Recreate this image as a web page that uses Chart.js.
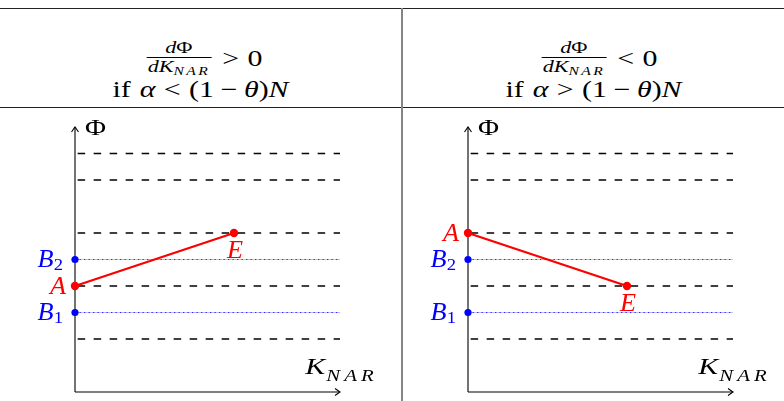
<!DOCTYPE html>
<html>
<head>
<meta charset="utf-8">
<script src="https://cdn.jsdelivr.net/npm/chart.js@4.4.1/dist/chart.umd.min.js"></script>
<style>
  body { margin: 0; background: #fff; }
  #page { position: relative; width: 784px; height: 401px; overflow: hidden; font-family: 'Liberation Serif', serif; color: #000; }
  .hrule { position: absolute; left: 0; width: 784px; height: 1px; background: #222; }
  .vrule { position: absolute; left: 401px; top: 8px; width: 2px; height: 393px; background: #858585; }
  .cell { position: absolute; top: 0; height: 107px; }
  .line1 { position: absolute; left: 0; right: 0; top: 40px; height: 38px; display: flex; justify-content: center; align-items: center; font-size: 23px; transform: scaleX(1.3); }
  .line2 { position: absolute; left: 0; right: 0; top: 78px; line-height: 23px; text-align: center; font-size: 23px; white-space: nowrap; transform: scaleX(1.3); }
  .frac { display: inline-flex; flex-direction: column; align-items: center; margin-right: 2px; font-size: 17px; line-height: 16px; }
  .frac .num { padding-bottom: 1px; }
  .frac .den { border-top: 1px solid #000; padding: 1px 1px 0 1px; white-space: nowrap; }
  .frac sub { font-size: 12px; font-style: italic; letter-spacing: 1.8px; vertical-align: -3px; }
  .th { display: inline-block; width: 0.28em; }
  .md { display: inline-block; width: 0.22em; }
  .sp { display: inline-block; width: 0.3em; }
  .plot { position: absolute; top: 108px; height: 293px; }
</style>
</head>
<body>
<div id="page">
  <div class="hrule" style="top:8px"></div>
  <div class="hrule" style="top:107px"></div>
  <div class="vrule"></div>

  <div class="cell" style="left:0; width:401px">
    <div class="line1" style="left:8px"><span class="frac"><span class="num"><i>d</i>Φ</span><span class="den"><i>dK</i><sub>NAR</sub></span></span><span class="th"></span>&gt;<span class="th"></span>0</div>
    <div class="line2">if<span class="sp"></span><i>α</i><span class="th"></span>&lt;<span class="th"></span>(1<span class="md"></span>−<span class="md"></span><i>θ</i>)<i>N</i></div>
  </div>
  <div class="cell" style="left:403px; width:381px">
    <div class="line1" style="left:12px"><span class="frac"><span class="num"><i>d</i>Φ</span><span class="den"><i>dK</i><sub>NAR</sub></span></span><span class="th"></span>&lt;<span class="th"></span>0</div>
    <div class="line2">if<span class="sp"></span><i>α</i><span class="th"></span>&gt;<span class="th"></span>(1<span class="md"></span>−<span class="md"></span><i>θ</i>)<i>N</i></div>
  </div>

  <div class="plot" style="left:0; width:402px"><canvas id="leftPlot" width="402" height="293"></canvas></div>
  <div class="plot" style="left:403px; width:381px"><canvas id="rightPlot" width="381" height="293"></canvas></div>
</div>

<script>
// axis extent (both diagrams use the same frame)
const kMax = 10;
const phiMax = 10;

// horizontal reference levels
const dashedLevels = [2, 4, 6, 8, 9];
const bLevels = [3, 5];
const bNames = ['1', '2'];

// path A -> E in each diagram
const pathK = [0, 6];
const leftPhi = [4, 6];
const rightPhi = [6, 4];

const RED = '#ff0000';
const BLUE = '#0000ff';
const SERIF = "'Liberation Serif', serif";

function arrowHead(ctx, x, y, dir) {
    // small open tip like TikZ "->"
    ctx.beginPath();
    if (dir === 'up') {
        ctx.moveTo(x - 3.5, y + 5); ctx.lineTo(x, y); ctx.lineTo(x + 3.5, y + 5);
    } else {
        ctx.moveTo(x - 5, y - 3.5); ctx.lineTo(x, y); ctx.lineTo(x - 5, y + 3.5);
    }
    ctx.stroke();
}

// text drawn a little wider than the font, like the math lettering
function textWidth(ctx, text, font, sx, gap = 0) {
    ctx.font = font;
    let w = 0;
    for (const ch of text) w += ctx.measureText(ch).width + gap;
    return (w - gap) * sx;
}

function drawText(ctx, text, left, baseline, font, sx, gap = 0) {
    ctx.save();
    ctx.font = font;
    ctx.textAlign = 'left';
    ctx.translate(left, baseline);
    ctx.scale(sx, 1);
    let cx = 0;
    for (const ch of text) {
        ctx.fillText(ch, cx, 0);
        cx += ctx.measureText(ch).width + gap;
    }
    ctx.restore();
}

function makeChart(canvasId, phiPath, padLeft, padRight) {
    const datasets = [];

    datasets.push({
        data: pathK.map((k, i) => ({ x: k, y: phiPath[i] })),
        showLine: true,
        clip: false,
        borderColor: RED,
        borderWidth: 2.2,
        pointRadius: 4.2,
        pointBackgroundColor: RED,
        pointBorderWidth: 0
    });

    bLevels.forEach(level => {
        // dotted line: dots over a faint trace, with the marker on the axis
        datasets.push({
            data: [{ x: 0, y: level }, { x: kMax, y: level }],
            showLine: true,
            clip: false,
            borderColor: 'rgba(20, 20, 255, 0.85)',
            borderWidth: 1.2,
            borderDash: [1.3, 3.2],
            pointRadius: [3.6, 0],
            pointBackgroundColor: BLUE,
            pointBorderWidth: 0
        });
        datasets.push({
            data: [{ x: 0, y: level }, { x: kMax, y: level }],
            showLine: true,
            borderColor: 'rgba(90, 90, 255, 0.4)',
            borderWidth: 1,
            pointRadius: 0
        });
    });

    dashedLevels.forEach(level => {
        datasets.push({
            data: [{ x: 0.1, y: level }, { x: kMax, y: level }],
            showLine: true,
            clip: false,
            borderColor: '#000',
            borderWidth: 1.3,
            borderDash: [7.5, 8.5],
            pointRadius: 0
        });
    });

    const axesAndLabels = {
        id: 'axesAndLabels',
        beforeDatasetsDraw(chart) {
            const { ctx, scales: { x, y } } = chart;
            const x0 = x.getPixelForValue(0), y0 = y.getPixelForValue(0);
            const xEnd = x.getPixelForValue(kMax), yTop = y.getPixelForValue(phiMax);
            ctx.save();
            ctx.strokeStyle = '#000';
            ctx.lineWidth = 1.1;
            ctx.beginPath();
            ctx.moveTo(x0, y0); ctx.lineTo(x0, yTop);
            ctx.moveTo(x0, y0); ctx.lineTo(xEnd, y0);
            ctx.stroke();
            arrowHead(ctx, x0, yTop, 'up');
            arrowHead(ctx, xEnd, y0, 'right');
            ctx.restore();
        },
        afterDatasetsDraw(chart) {
            const { ctx, scales: { x, y } } = chart;
            const x0 = x.getPixelForValue(0), y0 = y.getPixelForValue(0);
            const xEnd = x.getPixelForValue(kMax), yTop = y.getPixelForValue(phiMax);
            ctx.save();
            ctx.textBaseline = 'alphabetic';

            // axis names
            ctx.fillStyle = '#000';
            drawText(ctx, 'Φ', x0 + 10, yTop + 8, '23px ' + SERIF, 1.25);

            const kFont = 'italic 23px ' + SERIF, nFont = 'italic 16px ' + SERIF;
            const kW = textWidth(ctx, 'K', kFont, 1.3);
            const nW = textWidth(ctx, 'NAR', nFont, 1.3, 3.2);
            const kLeft = xEnd - (kW + nW) / 2 - 1;
            drawText(ctx, 'K', kLeft, y0 - 18, kFont, 1.3);
            drawText(ctx, 'NAR', kLeft + kW + 1, y0 - 11, nFont, 1.3, 3.2);

            // B1, B2 on the vertical axis
            ctx.fillStyle = BLUE;
            const bFont = 'italic 25px ' + SERIF, sFont = '17px ' + SERIF;
            bLevels.forEach((level, i) => {
                const py = y.getPixelForValue(level);
                const sW = textWidth(ctx, bNames[i], sFont, 1.1);
                const bW = textWidth(ctx, 'B', bFont, 1.05);
                const right = x0 - 12;
                drawText(ctx, 'B', right - sW - bW, py + 7, bFont, 1.05);
                drawText(ctx, bNames[i], right - sW, py + 10, sFont, 1.1);
            });

            // A and E
            ctx.fillStyle = RED;
            const aFont = 'italic 25px ' + SERIF;
            const ax = x.getPixelForValue(pathK[0]), ay = y.getPixelForValue(phiPath[0]);
            const aW = textWidth(ctx, 'A', aFont, 1.05);
            drawText(ctx, 'A', ax - 9 - aW, ay + 8, aFont, 1.05);
            const ex = x.getPixelForValue(pathK[1]), ey = y.getPixelForValue(phiPath[1]);
            const eW = textWidth(ctx, 'E', aFont, 1.05);
            drawText(ctx, 'E', ex + 1 - eW / 2, ey + 25, aFont, 1.05);
            ctx.restore();
        }
    };

    return new Chart(document.getElementById(canvasId), {
        type: 'scatter',
        data: { datasets },
        options: {
            responsive: false,
            animation: false,
            layout: { padding: { left: padLeft, right: padRight, top: 19, bottom: 9 } },
            scales: {
                x: { type: 'linear', min: 0, max: kMax, display: false },
                y: { type: 'linear', min: 0, max: phiMax, display: false }
            },
            plugins: { legend: { display: false }, tooltip: { enabled: false } },
            elements: { line: { tension: 0 } }
        },
        plugins: [axesAndLabels]
    });
}

makeChart('leftPlot', leftPhi, 75, 62);
makeChart('rightPlot', rightPhi, 65, 51);
</script>
</body>
</html>
